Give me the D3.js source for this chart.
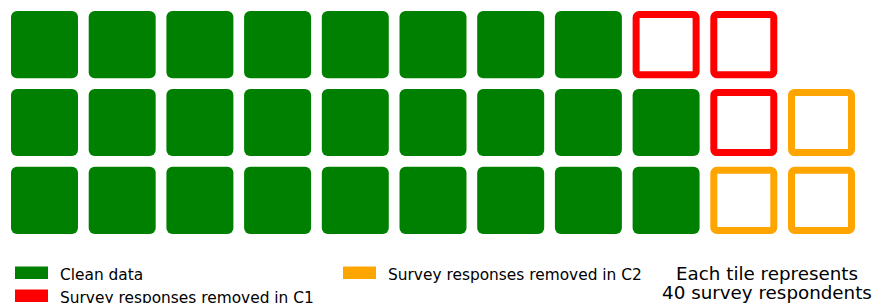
<!DOCTYPE html>
<html>
<head>
<meta charset="utf-8">
<script src="https://cdn.jsdelivr.net/npm/d3@7"></script>
<style>
  body { margin: 0; background: #fff; }
  text { font-family: "DejaVu Sans", sans-serif; fill: #000; }
</style>
</head>
<body>
<svg id="waffle"></svg>
<script>
// Categories and how many tiles each one gets (1 tile = 40 respondents)
var categories = ["Clean data", "Survey responses removed in C1", "Survey responses removed in C2"];
var tileCounts = [26, 3, 3];
var colors = ["#008000", "#ff0000", "#ffa500"];
var filled = [true, false, false];
var nRows = 3, nCols = 11;
var note = ["Each tile represents", "40 survey respondents"];

var width = 877, height = 303;

var svg = d3.select("#waffle")
  .attr("width", width)
  .attr("height", height);

// tiles are laid out column by column, snaking up then down
var tiles = [];
categories.forEach(function(c, i) {
  for (var k = 0; k < tileCounts[i]; k++) tiles.push(i);
});
var cells = tiles.map(function(cat, idx) {
  var col = Math.floor(idx / nRows);
  var k = idx % nRows;
  var row = (col % 2 === 0) ? (nRows - 1 - k) : k;
  return { cat: cat, col: col, row: row };
});

var x = d3.scaleBand()
  .domain(d3.range(nCols))
  .range([11, 855])
  .paddingInner(0.138);

var y = d3.scaleBand()
  .domain(d3.range(nRows))
  .range([11, 234])
  .paddingInner(0.138);

var sw = 7;

svg.selectAll("rect.tile")
  .data(cells)
  .enter().append("rect")
  .attr("class", "tile")
  .attr("x", function(d) { return filled[d.cat] ? x(d.col) : x(d.col) + sw / 2; })
  .attr("y", function(d) { return filled[d.cat] ? y(d.row) : y(d.row) + sw / 2; })
  .attr("width", function(d) { return filled[d.cat] ? x.bandwidth() : x.bandwidth() - sw; })
  .attr("height", function(d) { return filled[d.cat] ? y.bandwidth() : y.bandwidth() - sw; })
  .attr("rx", function(d) { return filled[d.cat] ? 6 : 3; })
  .style("fill", function(d) { return filled[d.cat] ? colors[d.cat] : "#fff"; })
  .style("stroke", function(d) { return filled[d.cat] ? "none" : colors[d.cat]; })
  .style("stroke-width", sw);

// Legend (two columns like the original)
var legendPos = [[15, 266.5], [15, 289.5], [343, 266.5]];
var legend = svg.selectAll("g.legend")
  .data(categories)
  .enter().append("g")
  .attr("class", "legend")
  .attr("transform", function(d, i) {
    return "translate(" + legendPos[i][0] + "," + legendPos[i][1] + ")";
  });

legend.append("rect")
  .attr("width", 33)
  .attr("height", 12.5)
  .style("fill", function(d, i) { return colors[i]; });

legend.append("text")
  .attr("x", 45)
  .attr("y", 13)
  .style("font-size", "15.4px")
  .text(function(d) { return d; });

svg.append("text")
  .attr("text-anchor", "middle")
  .attr("x", 767)
  .attr("y", 280)
  .style("font-size", "18.3px")
  .selectAll("tspan")
  .data(note)
  .enter().append("tspan")
  .attr("x", 767)
  .attr("dy", function(d, i) { return i === 0 ? 0 : 18.5; })
  .text(function(d) { return d; });
</script>
</body>
</html>
